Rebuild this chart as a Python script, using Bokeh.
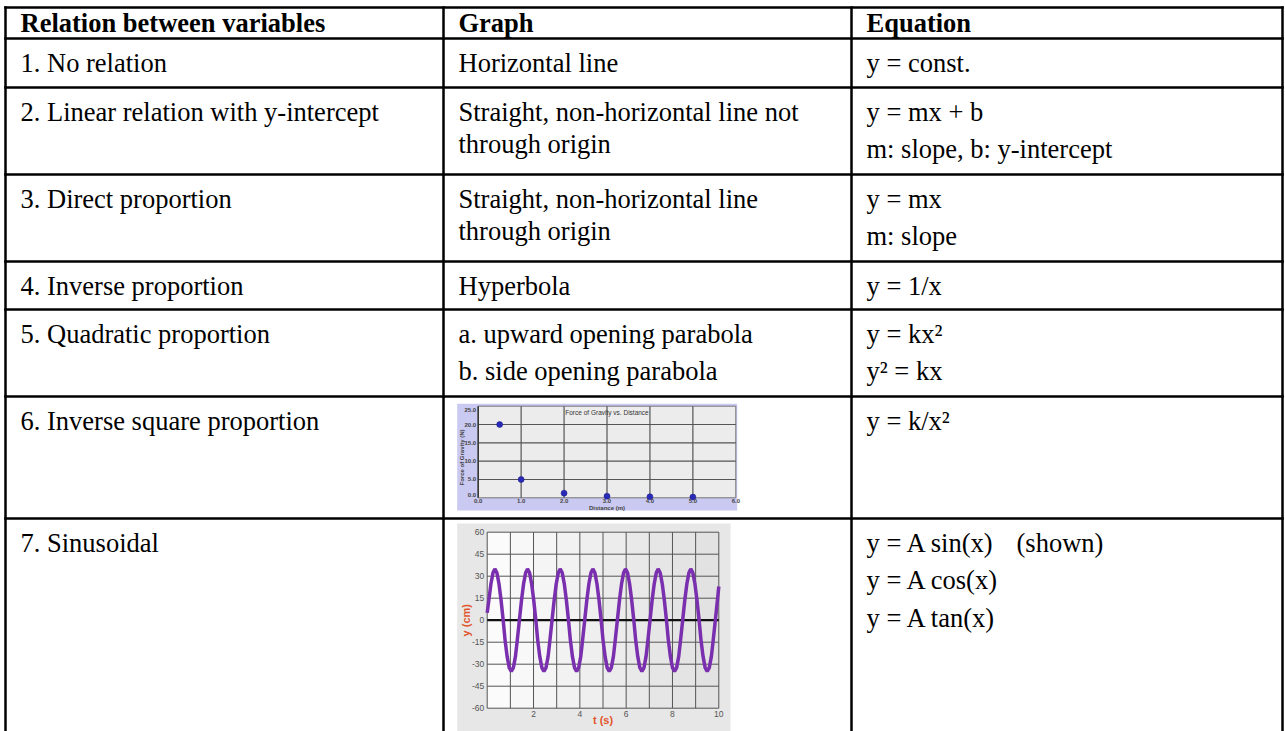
from math import pi
from bokeh.plotting import figure
from bokeh.models import Range1d
from bokeh.core.properties import value
from bokeh.embed import file_html
from bokeh.resources import INLINE

# ---------------- table content ----------------
header = ["Relation between variables", "Graph", "Equation"]
relations = ["1. No relation", "2. Linear relation with y-intercept", "3. Direct proportion",
             "4. Inverse proportion", "5. Quadratic proportion", "6. Inverse square proportion",
             "7. Sinusoidal"]
graphs = [["Horizontal line"],
          ["Straight, non-horizontal line not", "through origin"],
          ["Straight, non-horizontal line", "through origin"],
          ["Hyperbola"],
          ["a. upward opening parabola", "b. side opening parabola"],
          [], []]
graph_wrapped = [False, True, True, False, False, False, False]
equations = [["y = const."],
             ["y = mx + b", "m: slope, b: y-intercept"],
             ["y = mx", "m: slope"],
             ["y = 1/x"],
             ["y = kx\u00b2", "y\u00b2 = kx"],
             ["y = k/x\u00b2"],
             ["y = A sin(x)", "y = A cos(x)", "y = A tan(x)"]]
shown_note = "(shown)"

# ---------------- mini chart 1: Force of Gravity vs. Distance ----------------
distance_m = [0.5, 1.0, 2.0, 3.0, 4.0, 5.0]
gravity_force_n = [20.0, 5.0, 1.27, 0.45, 0.27, 0.2]
grav_xticks = [0, 1, 2, 3, 4, 5, 6]
grav_xlabels = ["0.0", "1.0", "2.0", "3.0", "4.0", "5.0", "6.0"]
grav_yticks = [0, 5, 10, 15, 20, 25]
grav_ylabels = ["0.0", "5.0", "10.0", "15.0", "20.0", "25.0"]

# ---------------- mini chart 2: sinusoid ----------------
t_s = [0.00, 0.07, 0.16, 0.25, 0.33, 0.42, 0.51, 0.60, 0.69, 0.77, 0.86, 0.95, 1.04, 1.13, 1.22, 1.30,
       1.39, 1.48, 1.57, 1.66, 1.74, 1.83, 1.92, 2.01, 2.10, 2.18, 2.27, 2.36, 2.45, 2.54, 2.63, 2.71,
       2.80, 2.89, 2.98, 3.07, 3.15, 3.24, 3.33, 3.42, 3.51, 3.59, 3.68, 3.77, 3.86, 3.95, 4.04, 4.12,
       4.21, 4.30, 4.39, 4.48, 4.56, 4.65, 4.74, 4.83, 4.92, 5.00, 5.09, 5.18, 5.27, 5.36, 5.45, 5.53,
       5.62, 5.71, 5.80, 5.89, 5.97, 6.06, 6.15, 6.24, 6.33, 6.41, 6.50, 6.59, 6.68, 6.77, 6.86, 6.94,
       7.03, 7.12, 7.21, 7.30, 7.38, 7.47, 7.56, 7.65, 7.74, 7.82, 7.91, 8.00, 8.09, 8.18, 8.27, 8.35,
       8.44, 8.53, 8.62, 8.71, 8.79, 8.88, 8.97, 9.06, 9.15, 9.23, 9.32, 9.41, 9.50, 9.59, 9.68, 9.76,
       9.85, 9.94, 10.00]
y_cm = [5.0, 13.4, 24.7, 32.3, 35.0, 32.3, 24.7, 13.4, 0.0, -13.4, -24.7, -32.3, -35.0, -32.3, -24.7, -13.4,
        0.0, 13.4, 24.7, 32.3, 35.0, 32.3, 24.7, 13.4, 0.0, -13.4, -24.7, -32.3, -35.0, -32.3, -24.7, -13.4,
        0.0, 13.4, 24.7, 32.3, 35.0, 32.3, 24.7, 13.4, 0.0, -13.4, -24.7, -32.3, -35.0, -32.3, -24.7, -13.4,
        0.0, 13.4, 24.7, 32.3, 35.0, 32.3, 24.7, 13.4, 0.0, -13.4, -24.7, -32.3, -35.0, -32.3, -24.7, -13.4,
        0.0, 13.4, 24.7, 32.3, 35.0, 32.3, 24.7, 13.4, 0.0, -13.4, -24.7, -32.3, -35.0, -32.3, -24.7, -13.4,
        0.0, 13.4, 24.7, 32.3, 35.0, 32.3, 24.7, 13.4, 0.0, -13.4, -24.7, -32.3, -35.0, -32.3, -24.7, -13.4,
        0.0, 13.4, 24.7, 32.3, 35.0, 32.3, 24.7, 13.4, 0.0, -13.4, -24.7, -32.3, -35.0, -32.3, -24.7, -13.4,
        0.0, 13.4, 23.0]
sin_xticks = [2, 4, 6, 8, 10]
sin_xlabels = ["2", "4", "6", "8", "10"]
sin_yticks = [60, 45, 30, 15, 0, -15, -30, -45, -60]
sin_ylabels = ["60", "45", "30", "15", "0", "-15", "-30", "-45", "-60"]

# ---------------- layout (reference pixel grid) ----------------
W, H = 1285, 731
ROW_TOPS = [7, 38, 87, 174, 261, 309, 396, 518]
COL_X = [5, 443, 851, 1282]
TABLE_BOTTOM = 760
PAD_X = 15
HEADER_BASE = 15.5    # baseline offset used for the header row
ROW_BASE = 24         # baseline offset used for body rows
WRAP_GAP = 32
PARA_GAP = 37.5
SHOWN_DX = 150

SERIF = value("Liberation Serif")
SANS = value("Liberation Sans")
FS = "26.5px"

p = figure(width=W, height=H, x_range=Range1d(0, W), y_range=Range1d(H, 0),
           output_backend="svg", toolbar_location=None, min_border=0,
           x_axis_location=None, y_axis_location=None)
p.xgrid.visible = False
p.ygrid.visible = False
p.outline_line_color = None
p.background_fill_color = "white"
p.border_fill_color = "white"


def cell_text(col, row, lines, gap, bold=False, dx=0):
    if not lines:
        return
    x0 = COL_X[col] + PAD_X + dx
    base = ROW_TOPS[row] + (HEADER_BASE if row == 0 else ROW_BASE)
    p.text(x=[x0] * len(lines), y=[base + i * gap for i in range(len(lines))], text=lines,
           text_font=SERIF, text_font_size=FS, text_baseline="alphabetic", text_align="left",
           text_color="black", text_font_style="bold" if bold else "normal")


for c, h in enumerate(header):
    cell_text(c, 0, [h], 0, bold=True)
for i in range(len(relations)):
    r = i + 1
    cell_text(0, r, [relations[i]], 0)
    cell_text(1, r, graphs[i], WRAP_GAP if graph_wrapped[i] else PARA_GAP)
    cell_text(2, r, equations[i], PARA_GAP)
cell_text(2, 7, [shown_note], 0, dx=SHOWN_DX)

# ---------- mini chart 1 ----------
p.quad(left=456.7, right=736.7, top=403.3, bottom=510, fill_color="#c9c9f1", line_color=None)
g = p.subplot(x_source=Range1d(0, 6), y_source=Range1d(0, 25),
              x_target=Range1d(477.7, 735.3), y_target=Range1d(497.3, 405.7))
g.quad(left=0, right=6, bottom=0, top=25, fill_color="#ececec", line_color="#777777", line_width=1)
g.segment(x0=grav_xticks[1:-1], x1=grav_xticks[1:-1], y0=[0] * 5, y1=[25] * 5,
          line_color="#555555", line_width=1.2)
g.segment(x0=[0] * 4, x1=[6] * 4, y0=grav_yticks[1:-1], y1=grav_yticks[1:-1],
          line_color="#555555", line_width=1.2)
g.segment(x0=[0], x1=[0], y0=[0], y1=[25], line_color="#333333", line_width=1.5)
g.scatter(distance_m, gravity_force_n, size=6, fill_color="#2a2ab8", line_color="#1a1a80", line_width=0.5)
g.text(x=grav_xticks, y=[0] * 7, text=grav_xlabels, y_offset=1.5, text_font=SANS, text_font_size="6px",
       text_font_style="bold", text_color="#444444", text_align="center", text_baseline="top")
yoffs = [-3 if v == grav_yticks[0] else (4 if v == grav_yticks[-1] else 0) for v in grav_yticks]
g.text(x=[0] * 6, y=grav_yticks, text=grav_ylabels, x_offset=-2, y_offset=yoffs, text_font=SANS,
       text_font_size="6px", text_font_style="bold", text_color="#444444", text_align="right",
       text_baseline="middle")
g.text(x=[3], y=[25], text=["Force of Gravity vs. Distance"], y_offset=6, text_font=SANS,
       text_font_size="6.5px", text_color="#333333", text_align="center", text_baseline="middle")
g.text(x=[3], y=[0], text=["Distance (m)"], y_offset=10, text_font=SANS, text_font_size="6px",
       text_font_style="bold", text_color="#444444", text_align="center", text_baseline="middle")
g.text(x=[0], y=[11], text=["Force of Gravity (N)"], x_offset=-16, angle=pi / 2, text_font=SANS,
       text_font_size="6px", text_font_style="bold", text_color="#444444", text_align="center",
       text_baseline="middle")

# ---------- mini chart 2 ----------
p.quad(left=456.7, right=730, top=523, bottom=760, fill_color="#e7e7e7", line_color=None)
s = p.subplot(x_source=Range1d(0, 10), y_source=Range1d(-60, 60),
              x_target=Range1d(486.7, 718.3), y_target=Range1d(707.7, 531.7))
band_colors = ["#fbfbfb", "#f8f8f8", "#f5f5f5", "#f2f2f2", "#efefef",
               "#ececec", "#e9e9e9", "#e6e6e6", "#e4e4e4", "#e2e2e2"]
s.quad(left=list(range(10)), right=list(range(1, 11)), bottom=[-60] * 10, top=[60] * 10,
       fill_color=band_colors, line_color=None)
s.segment(x0=list(range(1, 10)), x1=list(range(1, 10)), y0=[-60] * 9, y1=[60] * 9,
          line_color="#555555", line_width=1)
hy = [v for v in sin_yticks if v not in (0, 60, -60)]
s.segment(x0=[0] * len(hy), x1=[10] * len(hy), y0=hy, y1=hy, line_color="#555555", line_width=1)
s.quad(left=0, right=10, bottom=-60, top=60, fill_color=None, line_color="#555555", line_width=1)
s.segment(x0=[0], x1=[10], y0=[0], y1=[0], line_color="#111111", line_width=2.2)
s.line(t_s, y_cm, line_color="#7a2fae", line_width=3.5)
s.text(x=[0] * len(sin_yticks), y=sin_yticks, text=sin_ylabels, x_offset=-3, text_font=SANS,
       text_font_size="8.5px", text_color="#555555", text_align="right", text_baseline="middle")
s.text(x=sin_xticks, y=[-60] * 5, text=sin_xlabels, y_offset=3, text_font=SANS,
       text_font_size="8.5px", text_color="#555555", text_align="center", text_baseline="top")
s.text(x=[5], y=[-60], text=["t (s)"], y_offset=12, text_font=SANS, text_font_size="11px",
       text_font_style="bold", text_color="#e2552b", text_align="center", text_baseline="middle")
s.text(x=[0], y=[0], text=["y (cm)"], x_offset=-21, angle=pi / 2, text_font=SANS,
       text_font_size="11px", text_font_style="bold", text_color="#e2552b", text_align="center",
       text_baseline="middle")

# ---------- table borders ----------
n_r = len(ROW_TOPS)
p.segment(x0=[COL_X[0]] * n_r, x1=[COL_X[-1]] * n_r, y0=ROW_TOPS, y1=ROW_TOPS,
          line_color="black", line_width=2.5, line_cap="square")
p.segment(x0=COL_X, x1=COL_X, y0=[ROW_TOPS[0]] * len(COL_X), y1=[TABLE_BOTTOM] * len(COL_X),
          line_color="black", line_width=2.5, line_cap="square")

open("out.html", "w").write(file_html(p, INLINE))
